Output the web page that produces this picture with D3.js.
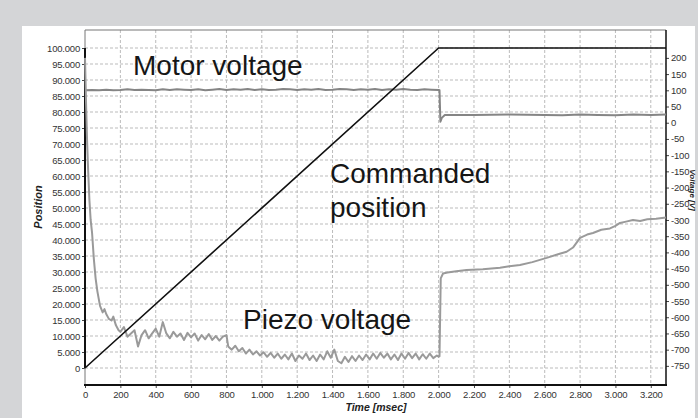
<!DOCTYPE html>
<html>
<head>
<meta charset="utf-8">
<script src="https://cdn.jsdelivr.net/npm/d3@7"></script>
<style>
  html, body { margin: 0; padding: 0; background: #d4d5d7; }
  svg { display: block; font-family: "Liberation Sans", Arial, sans-serif; }
</style>
</head>
<body>
<div id="chart"></div>
<script>
const width = 698;
const height = 418;

// tick values
const timeTicks = [0, 200, 400, 600, 800, 1000, 1200, 1400, 1600, 1800, 2000, 2200, 2400, 2600, 2800, 3000, 3200];
const positionTicks = [0, 5000, 10000, 15000, 20000, 25000, 30000, 35000, 40000, 45000, 50000,
  55000, 60000, 65000, 70000, 75000, 80000, 85000, 90000, 95000, 100000];
const voltTicks = [200, 150, 100, 50, 0, -50, -100, -150, -200, -250, -300, -350, -400, -450,
  -500, -550, -600, -650, -700, -750];

// commanded position (left axis)
const cmdTime = [0, 2000, 3286];
const cmdPos = [0, 100000, 100000];

// motor voltage (right axis)
const motorTime = [0, 40, 80, 120, 160, 200, 240, 280, 320, 360, 400, 440, 480, 520, 560, 600, 640, 680, 720, 760,
  800, 840, 880, 920, 960, 1000, 1040, 1080, 1120, 1160, 1200, 1240, 1280, 1320, 1360, 1400, 1440, 1480, 1520, 1560,
  1600, 1640, 1680, 1720, 1760, 1800, 1840, 1880, 1920, 1960, 2000, 2005, 2010, 2018, 2035, 2200, 2400, 2600, 2700,
  2800, 2900, 3000, 3100, 3200, 3286];
const motorVolt = [100, 101, 100, 102, 100, 101, 103, 101, 102, 101, 100, 103, 101, 103, 102, 101, 103, 100, 102, 104,
  101, 103, 102, 104, 101, 103, 101, 102, 104, 103, 101, 103, 102, 104, 101, 102, 104, 103, 101, 103,
  102, 104, 101, 103, 102, 104, 102, 101, 103, 102, 101, 100, 3, 15, 24, 24, 25, 24, 23,
  25, 24, 23, 25, 24, 25];

// piezo voltage (right axis)
const piezoTime = [0, 6, 12, 18, 25, 32, 40, 50, 60, 70, 85, 100, 110, 120, 135, 150, 160, 175, 190,
  200, 220, 240, 260, 280, 300, 320, 340, 360, 380, 400, 420, 440, 460, 480, 500, 520, 540, 560, 580,
  600, 620, 640, 660, 680, 700, 720, 740, 760, 780, 800,
  810, 830, 850, 870, 890, 910, 930, 950, 970, 990, 1010, 1030, 1050, 1070, 1090, 1110, 1130, 1150, 1170, 1190,
  1210, 1230, 1250, 1270, 1290, 1310, 1330, 1350, 1370, 1390, 1410, 1430, 1450, 1470, 1490, 1510, 1530, 1550,
  1570, 1590, 1610, 1630, 1650, 1670, 1690, 1710, 1730, 1750, 1770, 1790, 1810, 1830, 1850, 1870, 1890, 1910,
  1930, 1950, 1970, 1990, 2000, 2005, 2012, 2025, 2050, 2100, 2158, 2250, 2347, 2400, 2460, 2530, 2611, 2680,
  2724, 2760, 2800, 2840, 2873, 2920, 2969, 3000, 3026, 3060, 3099, 3140, 3180, 3230, 3286];
const piezoVolt = [200, 60, -60, -150, -240, -300, -340, -420, -480, -520, -565, -585, -575, -590, -605, -610, -598, -625, -640,
  -645, -630, -660, -650, -640, -690, -655, -640, -665, -650, -635, -660, -615, -650, -665, -645, -660, -650, -670, -648,
  -662, -650, -672, -655, -668, -652, -670, -658, -672, -660, -655,
  -690, -700, -688, -705, -695, -712, -700, -715, -705, -718, -708, -722, -710, -725, -712, -728, -715, -730, -712, -735,
  -718, -728, -712, -732, -718, -735, -715, -730, -705, -725, -700, -735, -742, -722, -738, -720, -735, -718,
  -732, -715, -730, -712, -728, -710, -725, -712, -730, -715, -732, -712, -728, -710, -726, -712, -730, -714,
  -728, -712, -726, -718, -722, -720, -480, -465, -462, -458, -454, -452, -447, -443, -439, -430, -417, -405,
  -398, -385, -355, -345, -340, -330, -326, -318, -309, -305, -300, -303, -298, -296, -292];

const locale = d3.formatLocale({ decimal: ",", thousands: ".", grouping: [3], currency: ["", ""], minus: "-" });
const fmt = locale.format(",d");

const x = d3.scaleLinear().domain([0, 3286]).range([85, 666]);
const yL = d3.scaleLinear().domain([-5312, 105625]).range([385, 30]);
const yR = d3.scaleLinear().domain([-809, 286]).range([385, 30]);

const svg = d3.select("#chart").append("svg").attr("width", width).attr("height", height);

svg.append("rect").attr("width", width).attr("height", height).attr("fill", "#d4d5d7");
svg.append("rect").attr("x", 22).attr("y", 26).attr("width", 673).attr("height", height - 26).attr("fill", "#fff");

// grid
svg.append("g").selectAll("line")
  .data(positionTicks)
  .join("line")
  .attr("x1", 85).attr("x2", 666)
  .attr("y1", d => yL(d)).attr("y2", d => yL(d))
  .attr("stroke", "#bbb").attr("stroke-dasharray", "3,2");
svg.append("g").selectAll("line")
  .data(timeTicks.slice(1))
  .join("line")
  .attr("y1", 30).attr("y2", 385)
  .attr("x1", d => x(d)).attr("x2", d => x(d))
  .attr("stroke", "#bbb").attr("stroke-dasharray", "3,2");

// axes
const styleAxis = g => {
  g.select(".domain").remove();
  g.selectAll(".tick line").attr("stroke", "#444");
  g.selectAll(".tick text").attr("fill", "#333").style("font-size", "9.5px")
    .style("letter-spacing", "-0.2px")
    .style("font-family", "'Liberation Sans', Arial, sans-serif");
};
svg.append("g").attr("transform", "translate(85,0)")
  .call(d3.axisLeft(yL).tickValues(positionTicks).tickFormat(fmt).tickSize(3).tickPadding(2))
  .call(styleAxis);
svg.append("g").attr("transform", "translate(666,0)")
  .call(d3.axisRight(yR).tickValues(voltTicks).tickFormat(fmt).tickSize(3).tickPadding(2))
  .call(styleAxis);
svg.append("g").attr("transform", "translate(0,385)")
  .call(d3.axisBottom(x).tickValues(timeTicks).tickFormat(fmt).tickSize(3).tickPadding(3))
  .call(styleAxis);

// frame
svg.append("line").attr("x1", 85).attr("x2", 666).attr("y1", 30).attr("y2", 30).attr("stroke", "#777");
svg.append("line").attr("x1", 85).attr("x2", 85).attr("y1", 30).attr("y2", 385).attr("stroke", "#777");
svg.append("line").attr("x1", 666).attr("x2", 666).attr("y1", 30).attr("y2", 386).attr("stroke", "#111").attr("stroke-width", 1.5);
svg.append("line").attr("x1", 84).attr("x2", 667).attr("y1", 385).attr("y2", 385).attr("stroke", "#111").attr("stroke-width", 2);
svg.append("line").attr("x1", x(0)).attr("x2", x(0)).attr("y1", yL(0)).attr("y2", yL(100000))
  .attr("stroke", "#111").attr("stroke-width", 2);

// series
const motorLine = d3.line().x((d, i) => x(motorTime[i])).y(d => yR(d));
const piezoLine = d3.line().x((d, i) => x(piezoTime[i])).y(d => yR(d));
const cmdLine = d3.line().x((d, i) => x(cmdTime[i])).y(d => yL(d));

svg.append("path").datum(motorVolt).attr("d", motorLine)
  .attr("fill", "none").attr("stroke", "#858585").attr("stroke-width", 2).attr("stroke-linejoin", "round");
svg.append("path").datum(piezoVolt).attr("d", piezoLine)
  .attr("fill", "none").attr("stroke", "#9a9a9a").attr("stroke-width", 2).attr("stroke-linejoin", "round");
svg.append("path").datum(cmdPos).attr("d", cmdLine)
  .attr("fill", "none").attr("stroke", "#111").attr("stroke-width", 1.6);

// titles
svg.append("text").attr("transform", "translate(42,207) rotate(-90)")
  .attr("text-anchor", "middle").style("font-size", "11px").style("font-weight", "bold").style("font-style", "italic")
  .attr("fill", "#222").text("Position");
svg.append("text").attr("x", 376).attr("y", 411)
  .attr("text-anchor", "middle").style("font-size", "10.5px").style("font-weight", "bold").style("font-style", "italic")
  .attr("fill", "#222").text("Time [msec]");
svg.append("text").attr("transform", "translate(690,190) rotate(90)")
  .attr("text-anchor", "middle").style("font-size", "8px").style("font-weight", "bold").style("font-style", "italic")
  .attr("fill", "#222").text("Voltage [V]");

// annotations
const notes = [
  { text: "Motor voltage", x: 133, y: 75 },
  { text: "Commanded", x: 330, y: 183 },
  { text: "position", x: 330, y: 217 },
  { text: "Piezo voltage", x: 243, y: 329 }
];
svg.append("g").selectAll("text")
  .data(notes)
  .join("text")
  .attr("x", d => d.x).attr("y", d => d.y)
  .style("font-size", "28px").attr("fill", "#161616")
  .text(d => d.text);
</script>
</body>
</html>
